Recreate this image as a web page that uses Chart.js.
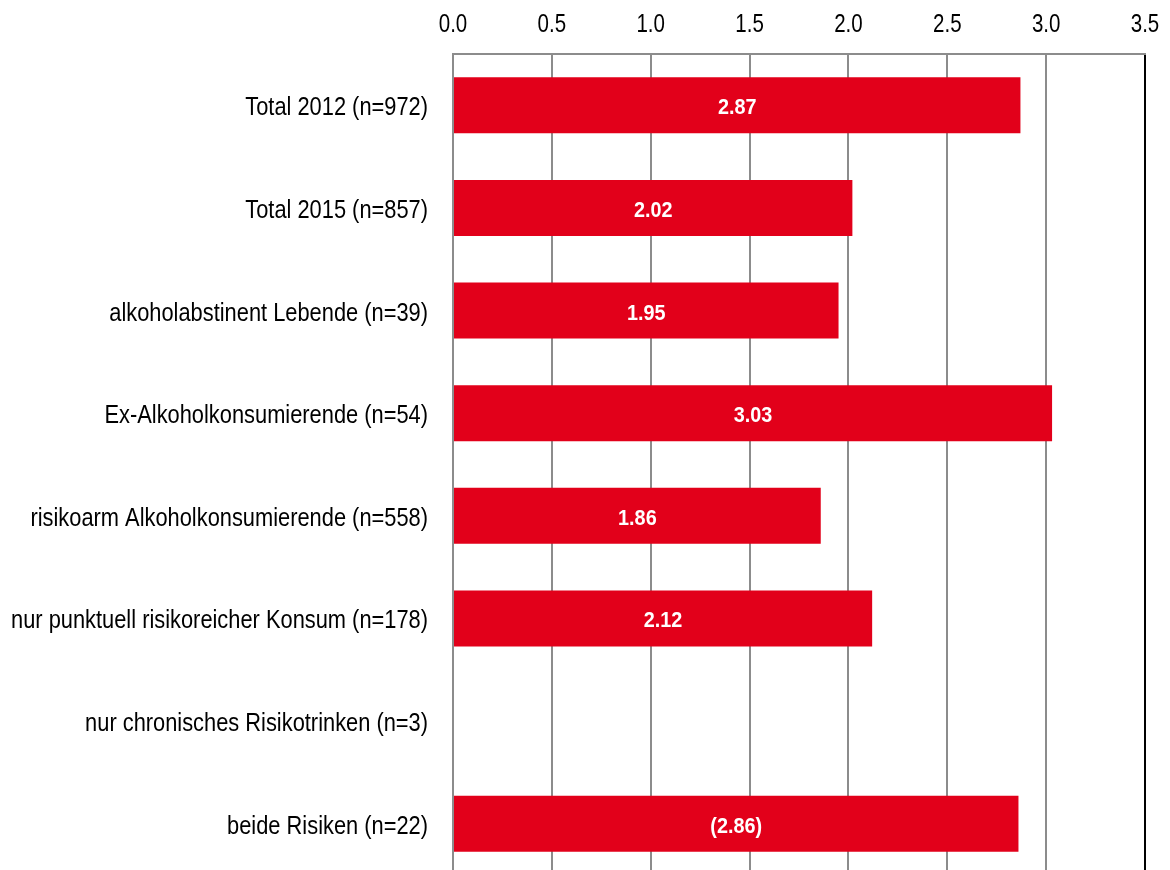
<!DOCTYPE html>
<html>
<head>
<meta charset="utf-8">
<script src="https://cdn.jsdelivr.net/npm/chart.js@4.4.1/dist/chart.umd.min.js"></script>
<style>
  html, body { margin: 0; padding: 0; background: #fff; overflow: hidden; width: 1170px; height: 870px; }
  #wrap { width: 1170px; height: 875px; }
</style>
</head>
<body>
<div id="wrap"><canvas id="c" width="1170" height="875"></canvas></div>
<script>
const categories = [
  "Total 2012 (n=972)",
  "Total 2015 (n=857)",
  "alkoholabstinent Lebende (n=39)",
  "Ex-Alkoholkonsumierende (n=54)",
  "risikoarm Alkoholkonsumierende (n=558)",
  "nur punktuell risikoreicher Konsum (n=178)",
  "nur chronisches Risikotrinken (n=3)",
  "beide Risiken (n=22)"
];
const values = [2.87, 2.02, 1.95, 3.03, 1.86, 2.12, null, 2.86];
const valueLabels = ["2.87", "2.02", "1.95", "3.03", "1.86", "2.12", "", "(2.86)"];
const tickValues = [0, 0.5, 1, 1.5, 2, 2.5, 3, 3.5];

const FONT = "'Liberation Sans', Arial, sans-serif";

// Draws text horizontally condensed (Arial Narrow look)
function narrowText(ctx, text, x, y, scaleX, align) {
  ctx.save();
  ctx.translate(x, y);
  ctx.scale(scaleX, 1);
  ctx.textAlign = align;
  ctx.textBaseline = 'alphabetic';
  ctx.fillText(text, 0, 0);
  ctx.restore();
}

const textPlugin = {
  id: 'narrowTexts',
  afterDraw(chart) {
    const ctx = chart.ctx;
    const xs = chart.scales.x, ys = chart.scales.y;
    ctx.save();
    // x tick labels
    ctx.fillStyle = '#000';
    ctx.font = "25px " + FONT;
    xs.ticks.forEach(t => {
      narrowText(ctx, Number(t.value).toFixed(1), xs.getPixelForValue(t.value), 31.5, 0.82, 'center');
    });
    // y category labels
    ctx.font = "26px " + FONT;
    categories.forEach((c, i) => {
      narrowText(ctx, c, ys.left + ys.width - 25, ys.getPixelForTick(i) + 10, 0.84, 'right');
    });
    ctx.restore();
  },
  afterDatasetsDraw(chart) {
    const ctx = chart.ctx;
    const meta = chart.getDatasetMeta(0);
    ctx.save();
    ctx.fillStyle = '#ffffff';
    ctx.font = "bold 22px " + FONT;
    meta.data.forEach((bar, i) => {
      if (values[i] == null || !valueLabels[i]) return;
      const cx = (bar.x + bar.base) / 2;
      narrowText(ctx, valueLabels[i], cx, bar.y + 9, 0.9, 'center');
    });
    ctx.restore();
  }
};

function resetPad(s) {
  s.paddingLeft = 0; s.paddingRight = 0; s.paddingTop = 0; s.paddingBottom = 0;
}

new Chart(document.getElementById('c'), {
  type: 'bar',
  data: {
    labels: categories,
    datasets: [{
      data: values,
      backgroundColor: '#E2001A',
      borderWidth: 0,
      barPercentage: 0.546,
      categoryPercentage: 1.0
    }]
  },
  plugins: [textPlugin],
  options: {
    indexAxis: 'y',
    responsive: false,
    animation: false,
    layout: { padding: { left: 0, right: 25, top: 0, bottom: 0 } },
    plugins: { legend: { display: false }, tooltip: { enabled: false } },
    scales: {
      x: {
        position: 'top',
        min: 0,
        max: 3.5,
        afterBuildTicks: (s) => { s.ticks = tickValues.map(v => ({ value: v })); },
        afterFit: (s) => { s.height = 54; resetPad(s); },
        ticks: { display: false },
        grid: {
          drawTicks: false,
          lineWidth: 2,
          color: (c) => (c.tick && c.tick.value === 3.5) ? '#000000' : '#8c8c8c'
        },
        border: { display: true, color: '#8c8c8c', width: 2 }
      },
      y: {
        afterFit: (s) => { s.width = 453; resetPad(s); },
        ticks: { display: false },
        grid: { display: false, drawTicks: false },
        border: { display: true, color: '#8c8c8c', width: 2 }
      }
    }
  }
});
</script>
</body>
</html>
